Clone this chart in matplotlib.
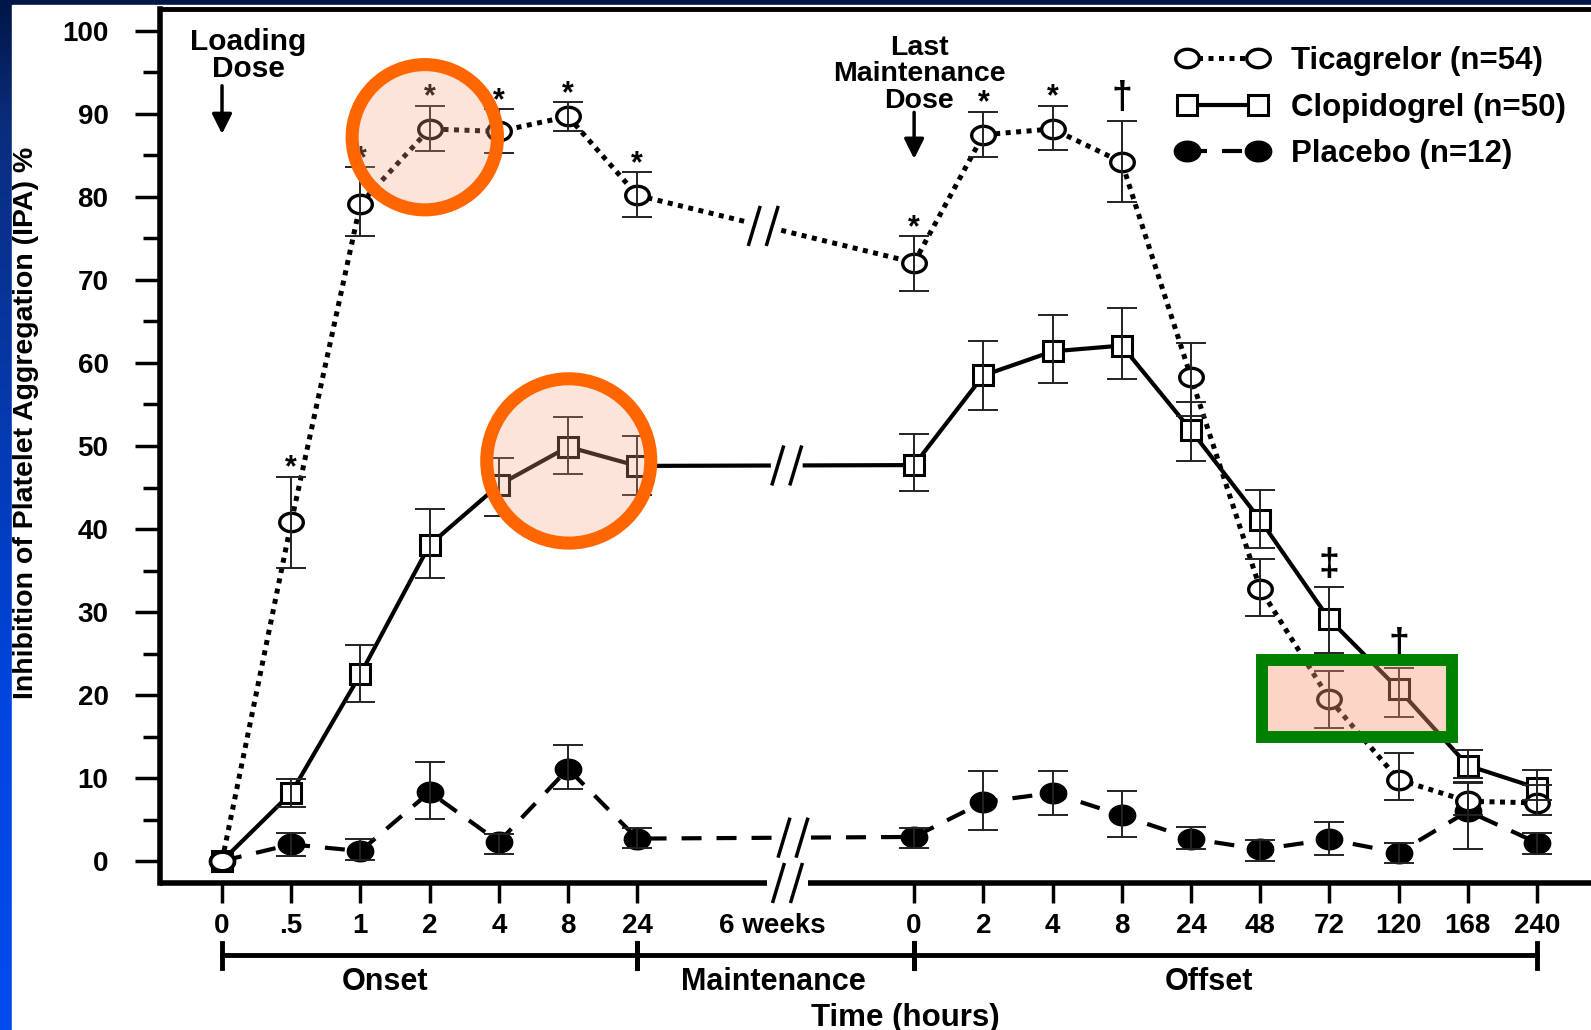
import numpy as np
import matplotlib.pyplot as plt
from matplotlib.patches import Ellipse, Rectangle
from matplotlib.lines import Line2D
from matplotlib.path import Path

plt.rcParams['font.family'] = ['Liberation Sans', 'DejaVu Sans']
plt.rcParams['font.weight'] = 'bold'

# time points: onset (0-24 h), then 0-240 h after the last maintenance dose
x_pos = [0, 1, 2, 3, 4, 5, 6, 10, 11, 12, 13, 14, 15, 16, 17, 18, 19]
tick_labels = ['0', '.5', '1', '2', '4', '8', '24',
               '0', '2', '4', '8', '24', '48', '72', '120', '168', '240']

tica = [0, 40.8, 79.2, 88.2, 87.9, 89.7, 80.2, 72.1, 87.5, 88.2, 84.2, 58.3, 32.8, 19.5, 9.8, 7.2, 7.0]
tica_hi = [0, 46.3, 83.6, 91.0, 90.6, 91.4, 83.0, 75.3, 90.3, 91.0, 89.2, 62.4, 36.4, 22.9, 13.0, 9.5, 9.2]
tica_lo = [0, 35.3, 75.3, 85.6, 85.3, 88.0, 77.6, 68.7, 84.8, 85.7, 79.4, 53.6, 29.5, 16.0, 7.3, 5.5, 5.5]

clop = [0, 8.2, 22.5, 38.1, 45.3, 49.9, 47.6, 47.7, 58.5, 61.4, 62.1, 51.9, 41.1, 29.1, 20.7, 11.5, 8.8]
clop_hi = [0, 9.9, 26.0, 42.4, 48.6, 53.5, 51.2, 51.4, 62.7, 65.8, 66.6, 55.3, 44.7, 33.0, 23.3, 13.4, 11.0]
clop_lo = [0, 6.5, 19.1, 34.1, 41.6, 46.6, 44.1, 44.6, 54.3, 57.6, 58.1, 48.2, 37.7, 25.1, 17.4, 10.0, 7.3]

plac = [0, 2.0, 1.2, 8.3, 2.3, 11.1, 2.7, 2.9, 7.1, 8.2, 5.5, 2.7, 1.4, 2.6, 1.0, 6.0, 2.2]
plac_hi = [0, 3.4, 2.7, 11.9, 3.3, 14.0, 4.0, 4.0, 10.8, 10.9, 8.4, 4.1, 2.5, 4.7, 2.2, 9.4, 3.4]
plac_lo = [0, 0.6, 0.1, 5.1, 0.9, 8.7, 1.6, 1.6, 3.7, 5.5, 2.9, 1.4, 0.0, 0.7, -0.2, 1.5, 0.8]

tica_marks = ['', '*', '*', '*', '*', '*', '*', '*', '*', '*', '\u2020', '', '', '', '', '', '']
clop_marks = ['', '', '', '', '', '', '', '', '', '', '', '', '', '\u2021', '\u2020', '', '']

phases = [('Onset', 0, 6, 2.36), ('Maintenance', 6, 10, 7.96), ('Offset', 10, 19, 14.26)]

W, H = 1591, 1030
fig = plt.figure(figsize=(W / 100, H / 100), dpi=100)

# slide background: blue gradient with white panel
bg = fig.add_axes([0, 0, 1, 1], zorder=-10)
stops = [0, 0.12, 0.7, 1.0]
cols = np.array([[0, 22, 70], [10, 45, 125], [0, 70, 225], [0, 75, 235]]) / 255
yy = np.linspace(0, 1, 300)
grad = np.stack([np.interp(yy, stops, cols[:, k]) for k in range(3)], axis=1)[:, None, :]
bg.imshow(grad, extent=[0, 1, 0, 1], aspect='auto', origin='upper')
bg.add_patch(Rectangle((12 / W, 0), 1, 1 - 5 / H, color='white'))
bg.set_xlim(0, 1)
bg.set_ylim(0, 1)
bg.axis('off')

ax = fig.add_axes([160 / W, 1 - 883 / H, 1 - 160 / W, (883 - 9) / H])
ax.set_xlim(-0.896, 19.78)
ax.set_ylim(-2.65, 102.65)
ax.spines['right'].set_visible(False)
ax.spines['bottom'].set_visible(False)
ax.spines['left'].set_linewidth(4)
ax.spines['top'].set_linewidth(3.5)

ax.set_yticks(np.arange(0, 101, 10))
ax.set_yticks(np.arange(5, 100, 10), minor=True)
ax.set_xticks(x_pos, tick_labels)
ax.set_xticks([7.95], ['6 weeks'], minor=True)
ax.tick_params(axis='y', which='major', length=18, width=2.5, pad=19, labelsize=20)
ax.tick_params(axis='y', which='minor', length=12, width=2.5)
ax.tick_params(axis='x', which='major', length=14.4, width=2.5, pad=7, labelsize=20)
ax.tick_params(axis='x', which='minor', length=0, pad=21.4, labelsize=20)

GAP = 0.26
breaks = {'tica': 7.82, 'clop': 8.16, 'plac': 8.25}
axis_break = 8.17


def draw_slashes(x, y):
    cx, cy = ax.transData.transform((x, y))
    inv = ax.transData.inverted()
    for s in (-9, 9):
        p = inv.transform([(cx + s - 6, cy - 20), (cx + s + 6, cy + 20)])
        ax.plot(p[:, 0], p[:, 1], color='k', lw=2.5, solid_capstyle='butt',
                clip_on=False, zorder=6)


def broken_line(vals, xb, **kw):
    xs = np.array(x_pos, float)
    ys = np.array(vals, float)
    seg = ([xs[6], xs[7]], [ys[6], ys[7]])
    xa, xc = xb - GAP, xb + GAP
    ax.plot(np.r_[xs[:7], xa], np.r_[ys[:7], np.interp(xa, *seg)], zorder=3, **kw)
    ax.plot(np.r_[xc, xs[7:]], np.r_[np.interp(xc, *seg), ys[7:]], zorder=3, **kw)
    draw_slashes(xb, np.interp(xb, *seg))


# bottom axis line with break
y0 = ax.get_ylim()[0]
x0, x1 = ax.get_xlim()
for a, b in [(x0, axis_break - 0.29), (axis_break + 0.29, x1)]:
    ax.plot([a, b], [y0, y0], color='k', lw=4, solid_capstyle='butt', clip_on=False, zorder=5)
draw_slashes(axis_break, y0)

theta = np.linspace(0, 2 * np.pi, 61)
oval = Path(np.column_stack([np.cos(theta), 0.78 * np.sin(theta)]), closed=True)

tica_style = dict(color='k', lw=3.6, dashes=(1, 1.1), dash_capstyle='butt')
clop_style = dict(color='k', lw=3.0)
plac_style = dict(color='k', lw=3.0, dashes=(4.8, 3.6), dash_capstyle='butt')
tica_mk = dict(marker=oval, ms=17, mfc='white', mec='k', mew=2.4)
clop_mk = dict(marker='s', ms=14, mfc='white', mec='k', mew=2.2)
plac_mk = dict(marker=oval, ms=19, mfc='k', mec='k', mew=1)

broken_line(plac, breaks['plac'], **plac_style)
broken_line(clop, breaks['clop'], **clop_style)
broken_line(tica, breaks['tica'], **tica_style)

ax.plot(x_pos, plac, ls='none', zorder=4, **plac_mk)
ax.plot(x_pos, clop, ls='none', zorder=4.1, **clop_mk)
ax.plot(x_pos, tica, ls='none', zorder=4.2, **tica_mk)

for vals, hi, lo in [(tica, tica_hi, tica_lo), (clop, clop_hi, clop_lo), (plac, plac_hi, plac_lo)]:
    v, h, l = np.array(vals[1:]), np.array(hi[1:]), np.array(lo[1:])
    ax.errorbar(x_pos[1:], v, yerr=[v - l, h - v], fmt='none', ecolor='#222222',
                elinewidth=1.4, capsize=10.8, capthick=1.4, zorder=5)

for xs, hi, marks in [(x_pos, tica_hi, tica_marks), (x_pos, clop_hi, clop_marks)]:
    for x, h, m in zip(xs, hi, marks):
        if m == '*':
            ax.annotate(m, (x, h), xytext=(0, 0), textcoords='offset points',
                        ha='center', va='baseline', fontsize=22, zorder=5)
        elif m:
            ax.annotate(m, (x, h), xytext=(0, 9), textcoords='offset points',
                        ha='center', va='baseline', fontsize=27, zorder=5)

# dose annotations
ax.text(0.38, 97.0, 'Loading\nDose', ha='center', va='center', fontsize=21.5, linespacing=0.95)
ax.annotate('', xy=(0, 87.6), xytext=(0, 93.4),
            arrowprops=dict(arrowstyle='-|>,head_length=0.6,head_width=0.3', color='k',
                            lw=2.5, mutation_scale=20, shrinkA=0, shrinkB=0))
for line, yt in [('Last', 98.0), ('Maintenance', 94.8), ('Dose', 91.6)]:
    ax.text(10.07, yt, line, ha='center', va='center', fontsize=20.5)
ax.annotate('', xy=(10, 84.6), xytext=(10, 90.2),
            arrowprops=dict(arrowstyle='-|>,head_length=0.6,head_width=0.3', color='k',
                            lw=2.5, mutation_scale=20, shrinkA=0, shrinkB=0))

# phase brackets under the axis
yb, yc0, yc1, yl = -11.33, -9.88, -12.89, -14.6
ax.plot([0, 19], [yb, yb], color='k', lw=3.5, clip_on=False)
for name, a, b, xl in phases:
    for xe in (a, b):
        ax.plot([xe, xe], [yc0, yc1], color='k', lw=3.5, clip_on=False)
    ax.text(xl, yl, name, ha='center', va='center', fontsize=22)

fig.text(905 / W, 1 - 1018 / H, 'Time (hours)', ha='center', va='center', fontsize=22.5)
fig.text(26 / W, 1 - 423 / H, 'Inhibition of Platelet Aggregation (IPA) %', rotation=90,
         ha='center', va='center', fontsize=20.5)

# highlight overlays
peach = (0.96, 0.64, 0.52)
for (cx, cy, w, h) in [(2.93, 87.2, 2.1, 17.5), (5.01, 48.2, 2.37, 19.8)]:
    ax.add_patch(Ellipse((cx, cy), w, h, facecolor=peach + (0.29,), edgecolor='none', zorder=7))
    ax.add_patch(Ellipse((cx, cy), w, h, facecolor='none', edgecolor='#FF6600', lw=9.4, zorder=8))
ax.add_patch(Rectangle((15.03, 14.94), 2.74, 9.26, facecolor=(0.98, 0.59, 0.45, 0.4),
                       edgecolor='#008000', lw=8.6, zorder=8))

handles = [Line2D([], [], **tica_style, **tica_mk),
           Line2D([], [], **clop_style, **clop_mk),
           Line2D([], [], **plac_style, **plac_mk)]
ax.legend(handles, ['Ticagrelor (n=54)', 'Clopidogrel (n=50)', 'Placebo (n=12)'],
          loc='upper left', bbox_to_anchor=(1178 / W, 1 - 46 / H), bbox_transform=fig.transFigure,
          frameon=False, numpoints=2, fontsize=22.5, handlelength=2.85, handletextpad=0.77,
          labelspacing=0.53, borderpad=0, borderaxespad=0)

fig.savefig('out.png', dpi=100)
